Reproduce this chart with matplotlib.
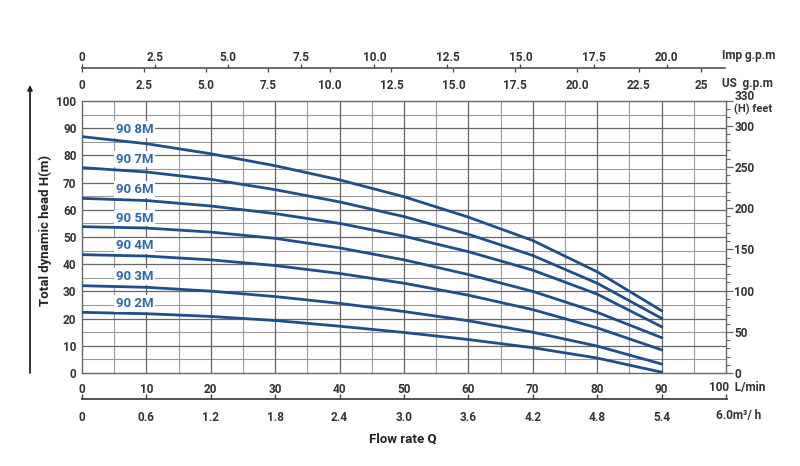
import numpy as np
import matplotlib
matplotlib.use('Agg')
import matplotlib.pyplot as plt
from matplotlib.lines import Line2D
from matplotlib.ticker import MultipleLocator

plt.rcParams['font.family'] = ['Liberation Sans Narrow', 'Roboto', 'DejaVu Sans']

# 数据：流量 (L/min) 与各型号扬程 (m)
flow_lmin = [0, 10, 20, 30, 40, 50, 60, 70, 80, 90]
head_2m = [22.3, 21.8, 20.8, 19.3, 17.2, 14.9, 12.3, 9.3, 5.5, 0.3]
head_3m = [32.1, 31.5, 30.1, 28.1, 25.6, 22.6, 19.2, 15.0, 9.9, 3.3]
head_4m = [43.5, 43.0, 41.6, 39.5, 36.6, 33.0, 28.6, 23.3, 16.6, 8.5]
head_5m = [53.8, 53.3, 51.8, 49.5, 46.0, 41.6, 36.2, 30.0, 22.3, 13.0]
head_6m = [64.2, 63.4, 61.4, 58.6, 55.0, 50.3, 44.6, 37.8, 29.0, 17.0]
head_7m = [75.5, 73.9, 71.2, 67.4, 62.9, 57.5, 51.0, 43.2, 33.0, 20.1]
head_8m = [86.9, 84.3, 80.6, 76.2, 71.0, 64.8, 57.3, 48.7, 37.2, 22.9]
models = ['90 2M', '90 3M', '90 4M', '90 5M', '90 6M', '90 7M', '90 8M']
label_heads = [25.6, 35.4, 46.7, 56.9, 67.5, 78.6, 89.6]
label_flow = 8.2

lmin_ticks = [0, 10, 20, 30, 40, 50, 60, 70, 80, 90, 100]
m3h_ticks = [0, 0.6, 1.2, 1.8, 2.4, 3.0, 3.6, 4.2, 4.8, 5.4, 6.0]
us_ticks = [0, 2.5, 5.0, 7.5, 10.0, 12.5, 15.0, 17.5, 20.0, 22.5, 25]
us_labels = ['0', '2.5', '5.0', '7.5', '10.0', '12.5', '15.0', '17.5', '20.0', '22.5', '25']
imp_ticks = [0, 2.5, 5.0, 7.5, 10.0, 12.5, 15.0, 17.5, 20.0]
imp_labels = ['0', '2.5', '5.0', '7.5', '10.0', '12.5', '15.0', '17.5', '20.0']
feet_ticks = [0, 50, 100, 150, 200, 250, 300, 330]

W, H = 800, 466
TXT = '#333333'
GRID_MAJ = '#666666'
GRID_MIN = '#9a9a9a'
AXLINE = '#444444'
CURVE = '#1f4f86'
LABEL = '#2d6aa3'
FS = 8.5


def fx(px):
    return px / W


def fy(py):
    return 1 - py / H


def bold_labels(axis_obj):
    for lab in axis_obj.get_ticklabels():
        lab.set_fontweight('bold')


fig = plt.figure(figsize=(8, 4.66), dpi=100)
fig.patch.set_facecolor('white')

# 主图
ax = fig.add_axes([fx(82), fy(373), (726 - 82) / W, (373 - 101) / H])
ax.set_xlim(0, 100)
ax.set_ylim(0, 100)
ax.set_xticks(lmin_ticks)
ax.set_xticklabels([str(t) for t in lmin_ticks[:-1]] + [''])
ax.set_yticks(range(0, 101, 10))
ax.tick_params(length=0)
ax.tick_params(axis='x', pad=7, labelsize=FS, labelcolor=TXT)
ax.tick_params(axis='y', pad=4, labelsize=FS, labelcolor=TXT)
bold_labels(ax.xaxis)
bold_labels(ax.yaxis)

# 网格：每 5 一条细线，每 10 一条深线
for v in range(5, 100, 10):
    ax.axvline(v, color=GRID_MIN, lw=0.8, zorder=1)
    ax.axhline(v, color=GRID_MIN, lw=0.8, zorder=1)
for v in range(10, 100, 10):
    ax.axvline(v, color=GRID_MAJ, lw=0.9, zorder=1)
    ax.axhline(v, color=GRID_MAJ, lw=0.9, zorder=1)
for s in ax.spines.values():
    s.set_color(GRID_MAJ)
    s.set_linewidth(1.0)

heads = [head_2m, head_3m, head_4m, head_5m, head_6m, head_7m, head_8m]
for h in heads:
    ax.plot(flow_lmin, h, color=CURVE, lw=2.0, zorder=3,
            solid_joinstyle='round')
for name, lh in zip(models, label_heads):
    ax.text(label_flow, lh, name, ha='center', va='center', color=LABEL,
            fontweight='bold', fontsize=9.5, zorder=4,
            bbox=dict(fc='white', ec='none', pad=1.2))

# 底部 m³/h 轴线（画在主图坐标下方）
m3h_line_y = -(399 - 373) / (373 - 101)
ax.plot([0, 1 + 1 / 644], [m3h_line_y, m3h_line_y], transform=ax.transAxes,
        clip_on=False, color=AXLINE, lw=1.3, zorder=5)

# 右侧英尺刻度
axr = ax.twinx()
axr.set_ylim(0, 330)
axr.set_yticks(feet_ticks)
axr.set_yticklabels([str(t) for t in feet_ticks[:-1]] + [''])
axr.yaxis.set_minor_locator(MultipleLocator(10))
axr.tick_params(axis='y', which='major', direction='out', length=5, width=0.9,
                color=GRID_MAJ, labelsize=FS, labelcolor=TXT, pad=1)
axr.tick_params(axis='y', which='minor', direction='out', length=3, width=0.8,
                color=GRID_MAJ)
bold_labels(axr.yaxis)
for s in axr.spines.values():
    s.set_visible(False)
fig.text(fx(735), fy(96), '330', ha='left', va='center', fontsize=FS,
         color=TXT, fontweight='bold')
fig.text(fx(734), fy(109), '(H) feet', ha='left', va='center', fontsize=FS - 0.5,
         color=TXT, fontweight='bold')

# 顶部 Imp / US g.p.m 刻度
axi = fig.add_axes([fx(82), fy(68), (725 - 82) / W, 0.0005])
axi.set_xlim(0, 100 / 4.546)
axi.set_xticks(imp_ticks)
axi.set_xticklabels(imp_labels)
axi.set_yticks([])
axi.tick_params(axis='x', top=True, bottom=False, labeltop=True, labelbottom=False,
                direction='out', length=3, width=0.9, color=AXLINE,
                labelsize=FS, labelcolor=TXT, pad=0)
bold_labels(axi.xaxis)
for s in axi.spines.values():
    s.set_visible(False)
axi.patch.set_visible(False)

axu = fig.add_axes([fx(82), fy(68), (725 - 82) / W, 0.0005])
axu.set_xlim(0, 100 / 3.85)
axu.set_xticks(us_ticks)
axu.set_xticklabels(us_labels)
axu.set_yticks([])
axu.tick_params(axis='x', top=False, bottom=True, labeltop=False, labelbottom=True,
                direction='out', length=3, width=0.9, color=AXLINE,
                labelsize=FS, labelcolor=TXT, pad=5)
bold_labels(axu.xaxis)
for s in axu.spines.values():
    s.set_visible(False)
axu.patch.set_visible(False)

fig.add_artist(Line2D([fx(82), fx(725)], [fy(68), fy(68)], color=AXLINE, lw=1.1,
                      zorder=10))

fig.text(fx(722), fy(56), 'Imp g.p.m', ha='left', va='center', fontsize=FS,
         color=TXT, fontweight='bold')
fig.text(fx(722), fy(84), 'US  g.p.m', ha='left', va='center', fontsize=FS,
         color=TXT, fontweight='bold')

# 底部 m³/h 刻度
axm = fig.add_axes([fx(82), fy(399), (727 - 82) / W, 0.0005])
axm.set_xlim(0, 6.0 * 645 / 644)
axm.set_xticks(m3h_ticks)
axm.set_xticklabels([f'{t:.1f}' if t else '0' for t in m3h_ticks[:-1]] + [''])
axm.set_yticks([])
axm.tick_params(axis='x', top=True, bottom=False, labeltop=False, labelbottom=True,
                direction='out', length=3.5, width=1.0, color=AXLINE,
                labelsize=FS, labelcolor=TXT, pad=5)
bold_labels(axm.xaxis)
for s in axm.spines.values():
    s.set_visible(False)
axm.patch.set_visible(False)

fig.text(fx(709), fy(388), '100  L/min', ha='left', va='center', fontsize=FS,
         color=TXT, fontweight='bold')
fig.text(fx(716), fy(415), '6.0m³/ h', ha='left', va='center', fontsize=FS,
         color=TXT, fontweight='bold')

# 轴标题和箭头
fig.text(fx(45), fy(230), 'Total dynamic head H(m)', rotation=90, ha='center',
         va='center', fontsize=9.5, fontweight='bold', color='#222222')
fig.text(fx(403), fy(439), 'Flow rate Q', ha='center', va='center', fontsize=9.5,
         fontweight='bold', color='#222222')
ax.annotate('', xy=(fx(30), fy(85)), xytext=(fx(30), fy(373)),
            xycoords='figure fraction', textcoords='figure fraction',
            arrowprops=dict(arrowstyle='-|>', color='#222222', lw=1.3,
                            mutation_scale=7, shrinkA=0, shrinkB=0))

fig.savefig('out.png', dpi=100)
